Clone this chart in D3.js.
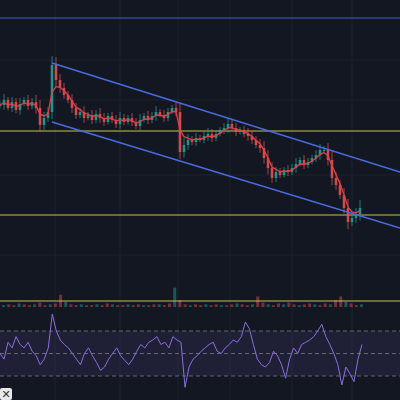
<!DOCTYPE html>
<html><head><meta charset="utf-8">
<script src="https://cdn.jsdelivr.net/npm/d3@7"></script>
<style>body{margin:0;background:#131722}svg{display:block}</style>
</head><body>
<div id="chart"></div>
<script>
// closes (price units), one per candle
const closes = [195,200,192,198,190,196,200,194,198,192,175,182,188,235,220,212,205,200,192,185,188,182,185,180,186,182,178,184,180,176,182,178,182,178,174,180,184,180,184,188,185,182,188,192,188,148,155,160,158,162,160,164,166,162,166,170,172,176,172,168,170,166,164,160,155,152,142,132,122,128,125,130,128,132,136,140,135,138,142,145,150,150,140,122,115,105,92,78,82,86,92];
const wicks = [4,6,3,5,4,6,3,5,4,7,8,6,5,9,8,6,5,4,6,5,4,6,3,5,4,6,5,3,4,5,6,4,3,5,4,6,3,5,4,6,3,5,4,3,5,9,7,6,4,5,3,4,6,5,4,3,5,6,4,5,3,4,6,5,4,6,7,8,6,5,4,3,5,4,6,3,5,4,3,5,6,4,7,9,6,5,7,9,5,6,8];
const rsi = [50,45,60,55,65,58,55,60,52,48,40,45,55,85,70,62,58,55,50,45,40,50,55,48,42,35,38,45,50,55,48,44,40,45,52,58,55,60,62,65,58,60,55,65,62,60,20,38,45,48,52,55,58,60,52,50,55,58,62,60,65,78,72,58,45,40,38,42,52,48,40,28,45,55,50,58,60,62,65,70,76,65,58,50,40,22,38,32,25,45,58];
const volume = [2,3,2,4,3,2,3,5,2,3,4,14,6,3,2,3,2,2,3,2,4,3,2,2,3,2,3,2,2,3,3,2,4,22,8,3,2,3,2,3,2,3,2,2,3,4,3,2,3,12,5,3,2,4,3,5,3,2,3,4,3,2,4,3,8,12,6,4,2,3];
const hLevels = [{p:282,c:"#3f5bd4"},{p:169,c:"#c9bf55"},{p:85,c:"#c9bf55"},{p:-1,c:"#c9bf55"}];
const channel = [[[13,237],[100,128]],[[13,178],[100,72]]]; // [candle index, price]
const rsiBands = [70,50,30];

const W = 400, H = 400;
const svg = d3.select("#chart").append("svg").attr("width", W).attr("height", H);
svg.append("rect").attr("width", W).attr("height", H).attr("fill", "#131722");

const x = d3.scaleLinear().domain([0, closes.length - 1]).range([0, 360]);
const y = d3.scaleLinear().domain([0, 300]).range([300, 0]);
const yr = d3.scaleLinear().domain([30, 70]).range([376, 331]);
const xr = d3.scaleLinear().domain([0, rsi.length - 1]).range([0, 362]);
const xv = d3.scaleLinear().domain([0, volume.length - 1]).range([4, 362]);
const yv = d3.scaleLinear().domain([0, 25]).range([307, 285]);

//grid
const grid = svg.append("g").attr("stroke", "#1f2330");
[55, 120, 178, 230, 292, 352].forEach(gx => grid.append("line").attr("x1", gx).attr("x2", gx).attr("y1", 0).attr("y2", H));
[60, 100, 175, 255].forEach(gy => grid.append("line").attr("x1", 0).attr("x2", W).attr("y1", gy).attr("y2", gy));

//volume
svg.append("g").selectAll("rect").data(volume).join("rect")
  .attr("x", (d, i) => xv(i) - 2).attr("width", 3)
  .attr("y", d => yv(d)).attr("height", d => yv(0) - yv(d))
  .attr("fill", (d, i) => i % 3 ? "rgba(239,83,80,0.45)" : "rgba(38,166,154,0.45)");

//rsi panel
svg.append("rect").attr("x", 0).attr("width", W).attr("y", yr(70)).attr("height", yr(30) - yr(70)).attr("fill", "rgba(126,87,194,0.12)");
svg.append("g").selectAll("line").data(rsiBands).join("line")
  .attr("x1", 0).attr("x2", W).attr("y1", d => yr(d)).attr("y2", d => yr(d))
  .attr("stroke", "#787b86").attr("stroke-dasharray", "4,3").attr("opacity", 0.8);
svg.append("path").datum(rsi).attr("fill", "none").attr("stroke", "#8c6fe0").attr("stroke-width", 1)
  .attr("d", d3.line().x((d, i) => xr(i)).y(d => yr(d)).curve(d3.curveLinear));

//horizontal levels
svg.append("g").selectAll("line").data(hLevels).join("line")
  .attr("x1", 0).attr("x2", W).attr("y1", d => y(d.p)).attr("y2", d => y(d.p))
  .attr("stroke", d => d.c).attr("stroke-width", 1.2);

//candles
const candles = svg.append("g");
closes.forEach((c, i) => {
  const o = i ? closes[i - 1] : c;
  const up = c >= o;
  const col = up ? "#26a69a" : "#ef5350";
  candles.append("line").attr("x1", x(i)).attr("x2", x(i))
    .attr("y1", y(Math.max(o, c) + wicks[i])).attr("y2", y(Math.min(o, c) - wicks[i] * 0.8))
    .attr("stroke", col).attr("opacity", 0.7);
  candles.append("rect").attr("x", x(i) - 1.3).attr("width", 2.6)
    .attr("y", y(Math.max(o, c))).attr("height", Math.max(1, Math.abs(y(o) - y(c))))
    .attr("fill", col).attr("opacity", 0.8);
});

//moving average
let ema = [];
closes.forEach((c, i) => ema.push(i ? ema[i - 1] + (c - ema[i - 1]) * 0.45 : c));
svg.append("path").datum(ema).attr("fill", "none").attr("stroke", "#e0404a").attr("stroke-width", 1.3)
  .attr("d", d3.line().x((d, i) => x(i)).y(d => y(d)));

//channel
svg.append("g").selectAll("line").data(channel).join("line")
  .attr("x1", d => x(d[0][0])).attr("y1", d => y(d[0][1]))
  .attr("x2", d => x(d[1][0])).attr("y2", d => y(d[1][1]))
  .attr("stroke", "#4a6be0").attr("stroke-width", 1.6);

//corner icon
svg.append("rect").attr("x", 0).attr("y", 388).attr("width", 12).attr("height", 12).attr("fill", "#e8e8e8").attr("rx", 2);
svg.append("text").attr("x", 6).attr("y", 398).attr("text-anchor", "middle").attr("font-family", "DejaVu Sans").attr("font-size", 11).attr("fill", "#333").text("✕");
</script>
</body></html>
